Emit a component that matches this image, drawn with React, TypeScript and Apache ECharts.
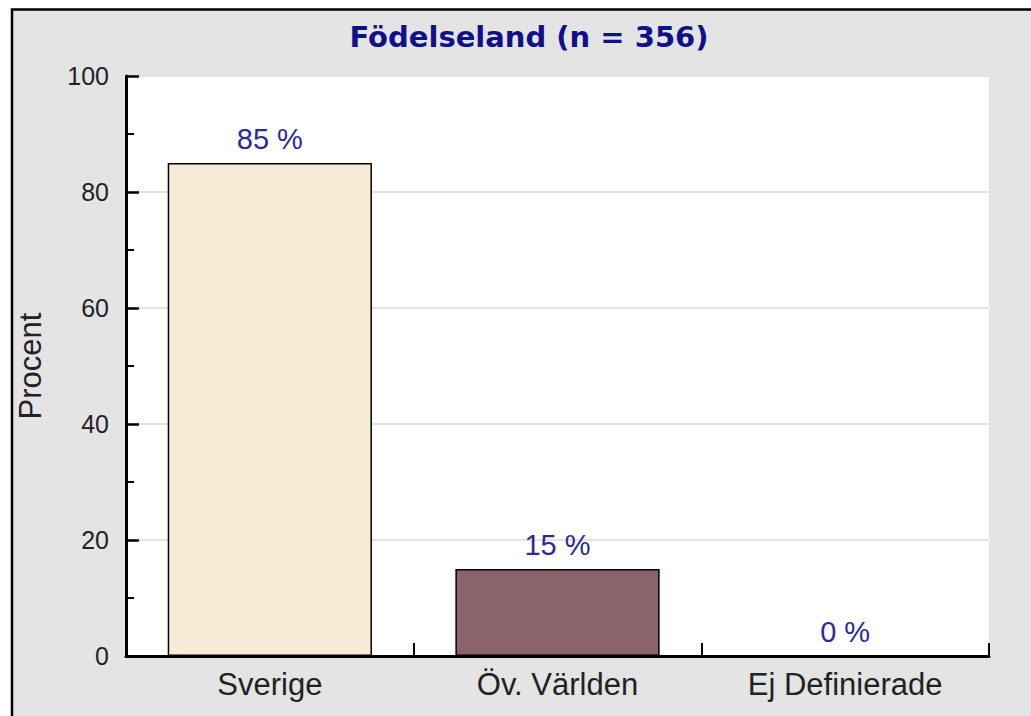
import React, { useEffect, useRef } from "react";
import * as echarts from "echarts";

const categories = ["Sverige", "Öv. Världen", "Ej Definierade"];
const values = [85, 15, 0];
const barColors = ["#f9ead7", "#8b636a"];
const yTicks = { min: 0, max: 100, interval: 20 };
const titleText = "Födelseland (n = 356)";
const yName = "Procent";

const FONT = "Liberation Sans";
const TITLE_FONT = "DejaVu Sans";

export default function App() {
  const ref = useRef<HTMLDivElement>(null);
  useEffect(() => {
    if (!ref.current) return;
    const chart = echarts.init(ref.current, null, { renderer: "svg" });
    chart.setOption({
      animation: false,
      backgroundColor: "#ffffff",
      graphic: [
        {
          type: "rect",
          z: -10,
          silent: true,
          shape: { x: 12, y: 9.5, width: 1060, height: 760 },
          style: { fill: "#e4e4e4", stroke: "#000", lineWidth: 2.5 },
        },
        {
          type: "text",
          x: 529,
          y: 37,
          style: {
            text: titleText,
            fontFamily: TITLE_FONT,
            fontWeight: "bold",
            fontSize: 29,
            fill: "#10108a",
            textAlign: "center",
            textVerticalAlign: "middle",
          },
        },
      ],
      grid: {
        left: 126,
        right: 42,
        top: 76,
        bottom: 60,
        show: true,
        backgroundColor: "#ffffff",
        borderWidth: 0,
      },
      xAxis: {
        type: "category",
        data: categories,
        axisLine: { lineStyle: { color: "#000", width: 3 } },
        axisTick: {
          show: true,
          inside: true,
          length: 13,
          interval: 0,
          lineStyle: { color: "#000", width: 2 },
        },
        axisLabel: {
          color: "#222",
          fontFamily: FONT,
          fontSize: 31,
          margin: 13,
          interval: 0,
        },
        splitLine: { show: false },
      },
      yAxis: {
        type: "value",
        min: yTicks.min,
        max: yTicks.max,
        interval: yTicks.interval,
        name: yName,
        nameLocation: "middle",
        nameRotate: 90,
        nameGap: 80,
        nameTextStyle: { color: "#222", fontFamily: FONT, fontSize: 31 },
        axisLine: { show: true, lineStyle: { color: "#000", width: 3 } },
        axisTick: {
          show: true,
          inside: true,
          length: 13,
          lineStyle: { color: "#000", width: 2.5 },
        },
        minorTick: {
          show: true,
          splitNumber: 2,
          length: 8,
          lineStyle: { color: "#000", width: 2 },
        },
        axisLabel: {
          color: "#222",
          fontFamily: FONT,
          fontSize: 25,
          margin: 17,
        },
        splitLine: { show: true, lineStyle: { color: "#e2e2e2", width: 2 } },
      },
      series: [
        {
          type: "bar",
          barWidth: "71%",
          data: values.map((v, i) => ({
            value: v,
            itemStyle: {
              color: barColors[i % barColors.length],
              borderColor: "#000",
              borderWidth: v > 0 ? 1.5 : 0,
            },
          })),
          label: {
            show: true,
            position: "top",
            distance: 10,
            formatter: "{c} %",
            color: "#2a2a9e",
            fontFamily: FONT,
            fontSize: 29,
          },
        },
      ],
    });
    return () => chart.dispose();
  }, []);
  return (
    <div
      ref={ref}
      style={{ position: "fixed", left: 0, top: 0, width: 1031, height: 716 }}
    />
  );
}
